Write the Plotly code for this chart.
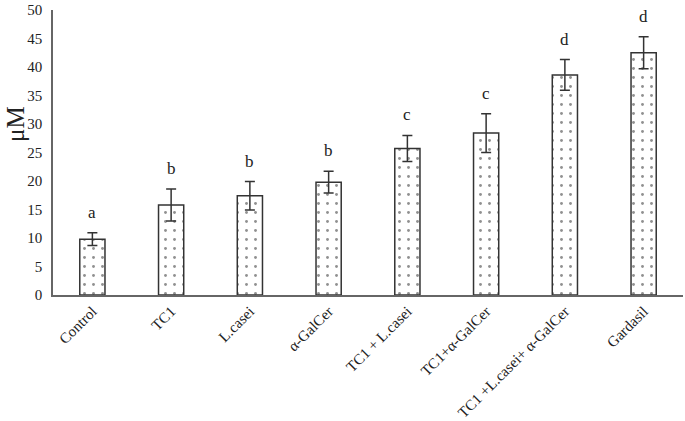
import plotly.graph_objects as go

categories = ["Control", "TC1", "L.casei", "α-GalCer", "TC1 + L.casei",
              "TC1+α-GalCer", "TC1 +L.casei+ α-GalCer", "Gardasil"]
values = [9.8, 15.8, 17.4, 19.8, 25.7, 28.4, 38.6, 42.5]
errors = [1.1, 2.8, 2.5, 1.9, 2.3, 3.4, 2.7, 2.8]
letters = ["a", "b", "b", "b", "c", "c", "d", "d"]
y_ticks = [0, 5, 10, 15, 20, 25, 30, 35, 40, 45, 50]
y_title = "μM"

font_family = "Liberation Serif, Times New Roman, serif"

fig = go.Figure()
fig.add_trace(go.Bar(
    x=categories, y=values,
    width=0.32,
    marker=dict(
        color="white",
        line=dict(color="#333333", width=1.5),
        pattern=dict(shape=".", fgcolor="#222222", bgcolor="white", size=9, solidity=0.08),
    ),
    error_y=dict(type="data", array=errors, color="#333333", thickness=1.5, width=5),
))

for c, v, e, l in zip(categories, values, errors, letters):
    fig.add_annotation(x=c, y=v + e + 3.6, text=l, showarrow=False,
                       font=dict(family=font_family, size=17, color="#222"),
                       yanchor="middle")

fig.add_annotation(xref="paper", x=0, xanchor="center", xshift=-38,
                   yref="y", y=30, yanchor="middle", text=y_title,
                   textangle=-90, showarrow=False,
                   font=dict(family=font_family, size=25, color="#222"))

fig.update_layout(
    width=685, height=421,
    margin=dict(l=53, r=2, t=10, b=126),
    paper_bgcolor="white", plot_bgcolor="white",
    showlegend=False,
    font=dict(family=font_family, size=15, color="#222"),
)
fig.update_xaxes(
    tickangle=-45, showline=True, linecolor="#666", linewidth=1.5,
    showgrid=False, ticks="", automargin=False,
    tickfont=dict(family=font_family, size=15),
)
fig.update_yaxes(
    range=[0, 50], tickvals=y_ticks, showline=True, linecolor="#666", linewidth=1.5,
    showgrid=False, ticks="", zeroline=False, automargin=False,
    tickfont=dict(family=font_family, size=15), ticklabelstandoff=6,
)

fig.write_html("out.html", config={"displayModeBar": False},
               post_script="document.body.style.margin='0';")
